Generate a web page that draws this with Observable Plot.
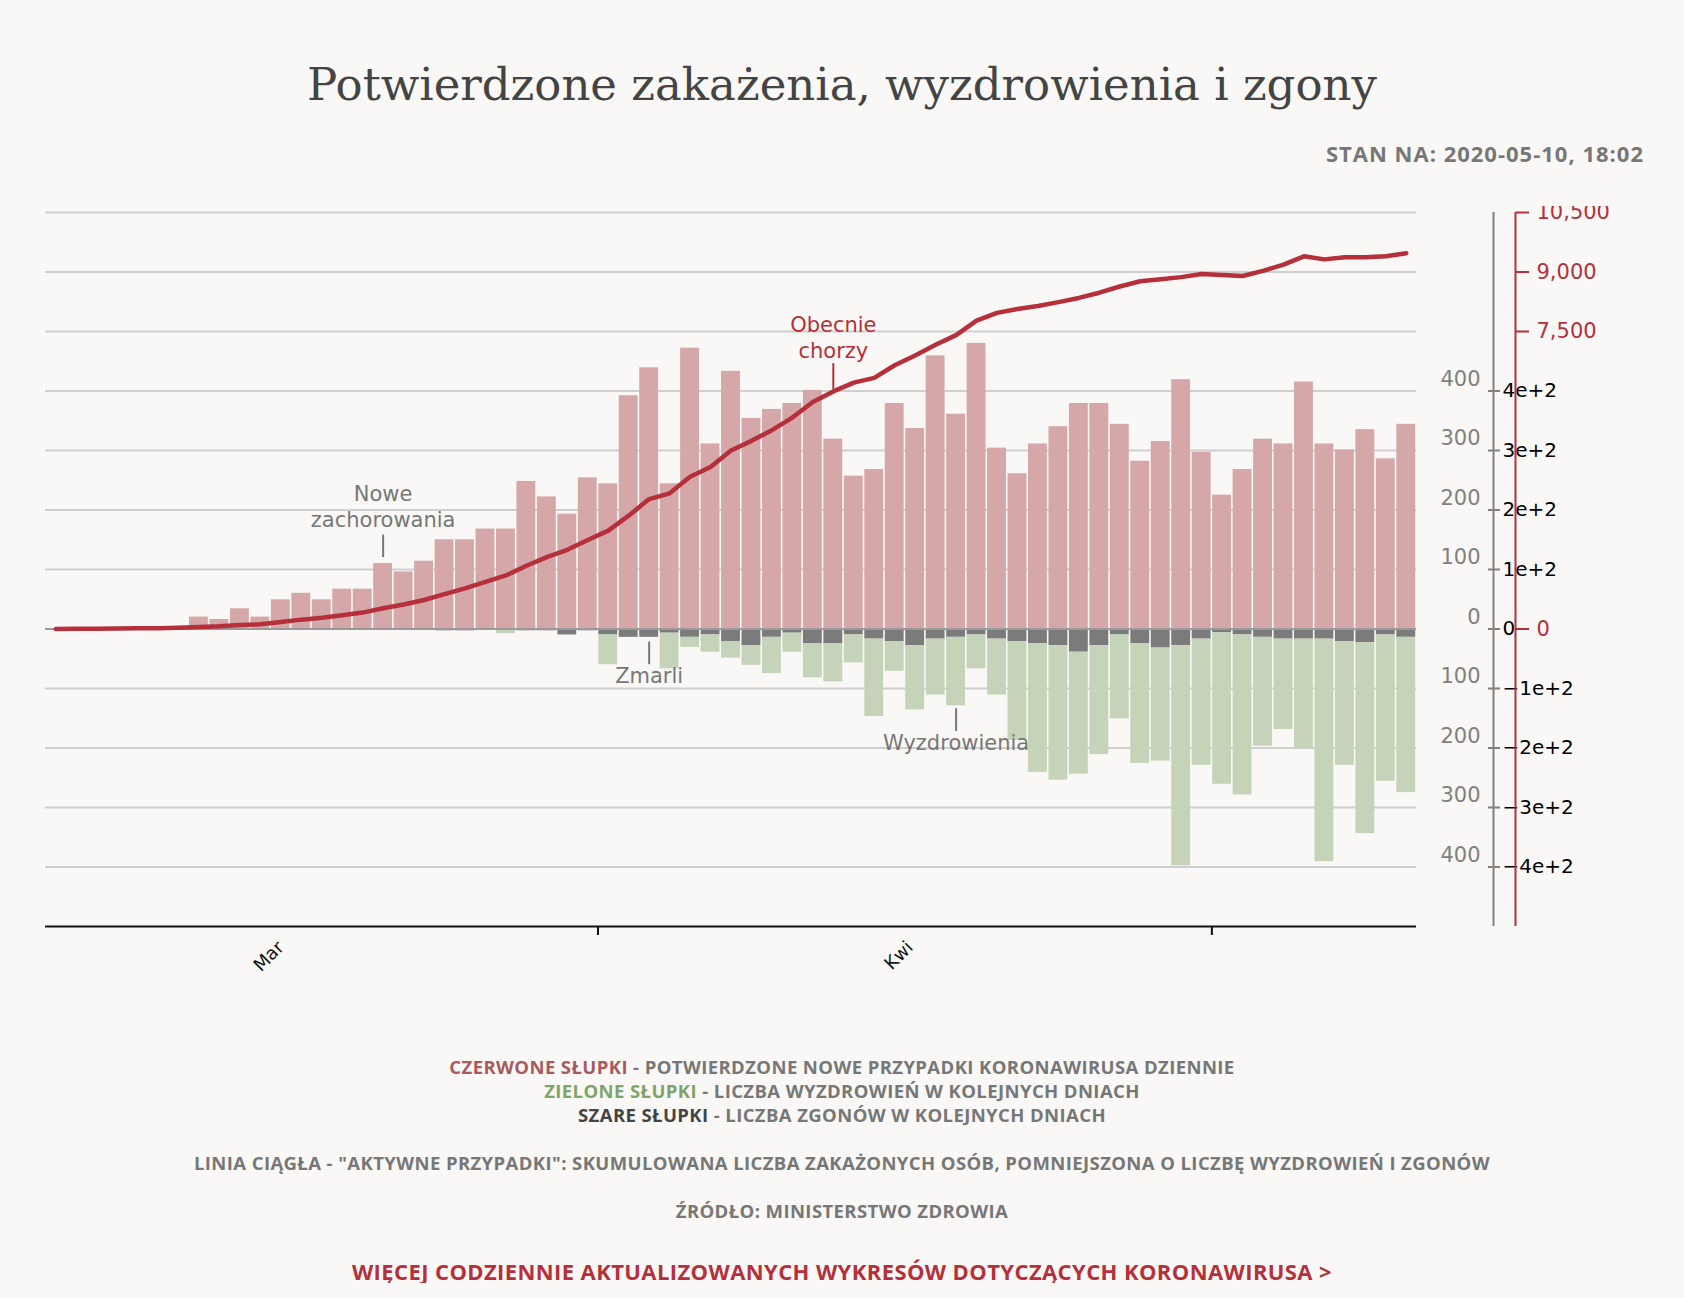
<!DOCTYPE html>
<html>
<head>
<meta charset="utf-8">
<script src="https://cdn.jsdelivr.net/npm/d3@7"></script>
<script src="https://cdn.jsdelivr.net/npm/@observablehq/plot@0.6"></script>
<style>
  body { margin: 0; background: #f9f8f6; width: 1684px; }
  #title { font-family: "DejaVu Serif", serif; font-size: 45px; color: #444; text-align: center; padding-top: 58px; height: 80px; }
  #stamp { font-family: "Open Sans", sans-serif; font-weight: 700; font-size: 22px; color: #777; text-align: right; padding-right: 40px; height: 68px; letter-spacing: 1px; }
  #chart { height: 833px; margin-bottom: 16px; }
  .foot { font-family: "Open Sans", sans-serif; font-weight: 700; font-size: 18.5px; color: #777; text-align: center; line-height: 24px; letter-spacing: 0.4px; }
</style>
</head>
<body>
<div id="title">Potwierdzone zakażenia, wyzdrowienia i zgony</div>
<div id="stamp">STAN NA: 2020-05-10, 18:02</div>
<div id="chart"></div>
<div class="foot"><span style="color:#a85a5e">CZERWONE SŁUPKI</span> - POTWIERDZONE NOWE PRZYPADKI KORONAWIRUSA DZIENNIE</div>
<div class="foot"><span style="color:#7fa46a">ZIELONE SŁUPKI</span> - LICZBA WYZDROWIEŃ W KOLEJNYCH DNIACH</div>
<div class="foot"><span style="color:#444">SZARE SŁUPKI</span> - LICZBA ZGONÓW W KOLEJNYCH DNIACH</div>
<div class="foot" style="margin-top:24px">LINIA CIĄGŁA - "AKTYWNE PRZYPADKI": SKUMULOWANA LICZBA ZAKAŻONYCH OSÓB, POMNIEJSZONA O LICZBĘ WYZDROWIEŃ I ZGONÓW</div>
<div class="foot" style="margin-top:24px">ŹRÓDŁO: MINISTERSTWO ZDROWIA</div>
<div class="foot" style="margin-top:36px;color:#b5303a;font-size:22px">WIĘCEJ CODZIENNIE AKTUALIZOWANYCH WYKRESÓW DOTYCZĄCYCH KORONAWIRUSA &gt;</div>
<script>
const DAY = 864e5;
// bars start 2020-03-12, line starts 2020-03-05, both end 2020-05-10
const barStart = Date.UTC(2020, 2, 12);
const lineStart = Date.UTC(2020, 2, 5);

const cases = [20,16,34,20,49,60,49,67,67,110,96,114,150,150,168,168,248,222,193,254,244,392,439,244,
  472,311,433,354,369,379,401,319,257,268,379,337,459,361,480,304,261,311,340,379,379,344,282,315,419,297,
  225,268,319,311,415,311,301,335,286,344];
const deaths = [1,0,0,0,1,0,2,0,0,0,2,1,3,3,2,1,3,3,10,3,10,14,14,7,
  14,10,21,28,14,7,25,25,10,17,21,28,17,14,10,17,21,25,28,39,28,10,25,32,28,17,
  6,10,14,17,17,17,21,23,10,14];
const recovered = [0,0,0,0,0,0,0,0,0,0,0,0,0,0,0,7,0,0,0,0,50,0,0,60,
  17,29,28,33,61,32,57,64,47,130,50,108,94,115,57,94,166,216,226,205,183,141,201,190,370,212,
  255,269,183,152,184,374,208,321,246,261];
const active = [1,5,6,11,16,22,31,
  50,67,102,118,175,236,284,349,414,522,618,731,879,1025,1190,1350,1594,1813,1996,2243,
  2479,2858,3276,3420,3838,4083,4499,4743,5012,5330,5721,5990,6210,6332,6650,6895,7164,7408,7775,7970,8068,8142,8240,8346,8478,8635,8766,8819,8871,8950,
  8924,8898,9029,9186,9396,9318,9370,9370,9396,9475];
const leftTicks = [-400,-300,-200,-100,0,100,200,300,400];
const activeTicks = [0,7500,9000,10500];
const ratio = 15; // active cases per bar unit
const monthLabels = [[Date.UTC(2020,2,16,12), "Mar"], [Date.UTC(2020,3,16,6), "Kwi"]];

const bars = [];
cases.forEach((c, i) => {
  const t = barStart + i * DAY;
  bars.push({x1: t, x2: t + DAY, y1: 0, y2: c, k: "c"});
  bars.push({x1: t, x2: t + DAY, y1: 0, y2: -deaths[i], k: "d"});
  bars.push({x1: t, x2: t + DAY, y1: -deaths[i], y2: -deaths[i] - recovered[i], k: "r"});
});
const line = active.map((v, i) => ({x: lineStart + i * DAY + DAY / 2, y: v / ratio}));
const colors = {c: "#d5a7a9", d: "#7b7b7b", r: "#c5d3b9"};
const end = Date.UTC(2020, 4, 11);
const red = "#b5303a", gray = "#808080";

const notesUp = [
  {x: Date.UTC(2020,2,21,12), y: 172, y1: 120, y2: 158, t: "Nowe\nzachorowania", c: "#777"},
  {x: Date.UTC(2020,3,12,12), y: 456, y1: 402, y2: 446, t: "Obecnie\nchorzy", c: red}
];
const notesDown = [
  {x: Date.UTC(2020,3,3,12), y: -66, y1: -22, y2: -60, t: "Zmarli", c: "#777"},
  {x: Date.UTC(2020,3,18,12), y: -178, y1: -134, y2: -172, t: "Wyzdrowienia", c: "#777"}
];

const chart = Plot.plot({
  width: 1684, height: 833,
  marginLeft: 45, marginRight: 268, marginTop: 6, marginBottom: 113,
  style: {background: "transparent", fontFamily: "DejaVu Sans, sans-serif", fontSize: "20px"},
  x: {type: "utc", domain: [lineStart, end], axis: null},
  y: {domain: [-500, 700], axis: null},
  marks: [
    Plot.gridY([-400,-300,-200,-100,100,200,300,400,500,600,700], {stroke: "#cfcfcf", strokeOpacity: 1, strokeWidth: 2}),
    Plot.rect(bars, {x1: "x1", x2: "x2", y1: "y1", y2: "y2", fill: d => colors[d.k], insetLeft: 0.8, insetRight: 0.8}),
    Plot.ruleY([0], {stroke: "#999", strokeWidth: 2}),
    Plot.line(line, {x: "x", y: "y", stroke: red, strokeWidth: 4.5, curve: "linear"}),
    Plot.ruleX(notesUp.concat(notesDown), {x: "x", y1: "y1", y2: "y2", stroke: d => d.c, strokeWidth: 2}),
    Plot.text(notesUp, {x: "x", y: "y", text: "t", fill: d => d.c, lineAnchor: "bottom", fontSize: 21, lineHeight: 1.2}),
    Plot.text(notesDown, {x: "x", y: "y", text: "t", fill: d => d.c, lineAnchor: "top", fontSize: 21}),
    // x axis
    Plot.ruleY([-500], {stroke: "#111", strokeWidth: 2}),
    Plot.axisX({ticks: [Date.UTC(2020,3,1), Date.UTC(2020,4,1)], tickFormat: () => "", tickSize: 9, stroke: "#111", strokeWidth: 2}),
    Plot.axisX(monthLabels.map(d => d[0]), {tickSize: 0, tickRotate: -45, tickPadding: 18, fontSize: 18, fill: "#111",
      tickFormat: t => monthLabels.find(d => d[0] === +t)[1]}),
    // bar axis (gray)
    Plot.ruleX([end], {y1: -500, y2: 700, dx: 77, stroke: gray, strokeWidth: 2}),
    Plot.axisY({anchor: "right", ticks: leftTicks, tickSize: 12, tickFormat: "", dx: 71, stroke: gray, strokeWidth: 2}),
    Plot.axisY({anchor: "right", ticks: leftTicks, tickSize: 0, tickFormat: d => Math.abs(d), dx: 55, dy: -12, textAnchor: "end", fill: gray, fontSize: 21}),
    // active cases axis (red)
    Plot.ruleX([end], {y1: -500, y2: 700, dx: 99, stroke: red, strokeWidth: 2}),
    Plot.axisY({anchor: "right", ticks: activeTicks.map(v => v / ratio), tickSize: 13, tickPadding: 8, dx: 99,
      tickFormat: d => Math.round(d * ratio), stroke: red, fill: red, strokeWidth: 2, fontSize: 21})
  ]
});
document.getElementById("chart").append(chart);
</script>
</body>
</html>
